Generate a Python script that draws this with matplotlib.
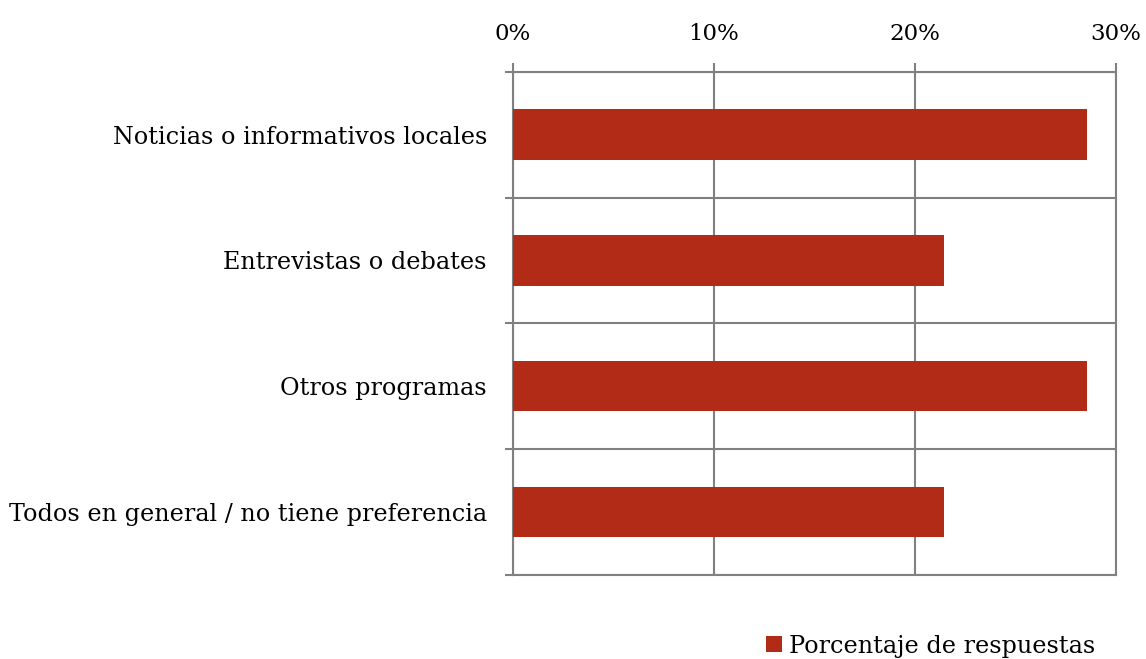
import matplotlib
matplotlib.use("Agg")
import matplotlib.pyplot as plt
import numpy as np

categories = ["Noticias o informativos locales", "Entrevistas o debates",
              "Otros programas", "Todos en general / no tiene preferencia"]
values = [28.57, 21.43, 28.57, 21.43]
xticks = [0, 10, 20, 30]
xtick_labels = ["0%", "10%", "20%", "30%"]
series_name = "Porcentaje de respuestas"

bar_color = "#B22B17"
grid_color = "#808080"

plt.rcParams['font.family'] = ['DejaVu Serif']

fig = plt.figure(figsize=(11.46, 6.59), dpi=100)
ax = fig.add_axes([512.5/1146, 1-575/659, (1116-512.5)/1146, (575-71.7)/659])

y = np.arange(len(categories))
ax.barh(y, values, height=0.4, color=bar_color, label=series_name, zorder=3)

ax.set_xlim(0, 30)
ax.set_ylim(len(categories)-0.5, -0.5)
ax.xaxis.tick_top()
ax.set_xticks(xticks)
ax.set_xticklabels(xtick_labels, fontsize=16.5)
ax.tick_params(axis='x', direction='out', length=6.5, width=1.5, color=grid_color, pad=13)

ax.set_yticks(y)
ax.set_yticklabels(categories, fontsize=17.2)
ax.set_yticks(np.arange(len(categories)+1)-0.5, minor=True)
ax.tick_params(axis='y', which='major', length=0, pad=18.4)
ax.tick_params(axis='y', which='minor', direction='out', length=6, width=1.5, color=grid_color)

ax.grid(axis='x', which='major', color=grid_color, linewidth=1.5, zorder=0)
ax.grid(axis='y', which='minor', color=grid_color, linewidth=1.5, zorder=0)

for s in ax.spines.values():
    s.set_color(grid_color)
    s.set_linewidth(1.5)

ax.legend(loc='lower right', bbox_to_anchor=(1095/1146, 0.002), bbox_transform=fig.transFigure,
          frameon=False, fontsize=17.2, handlelength=0.64, handleheight=0.64, handletextpad=0.3,
          borderaxespad=0, borderpad=0)

fig.savefig("out.png", dpi=100)
